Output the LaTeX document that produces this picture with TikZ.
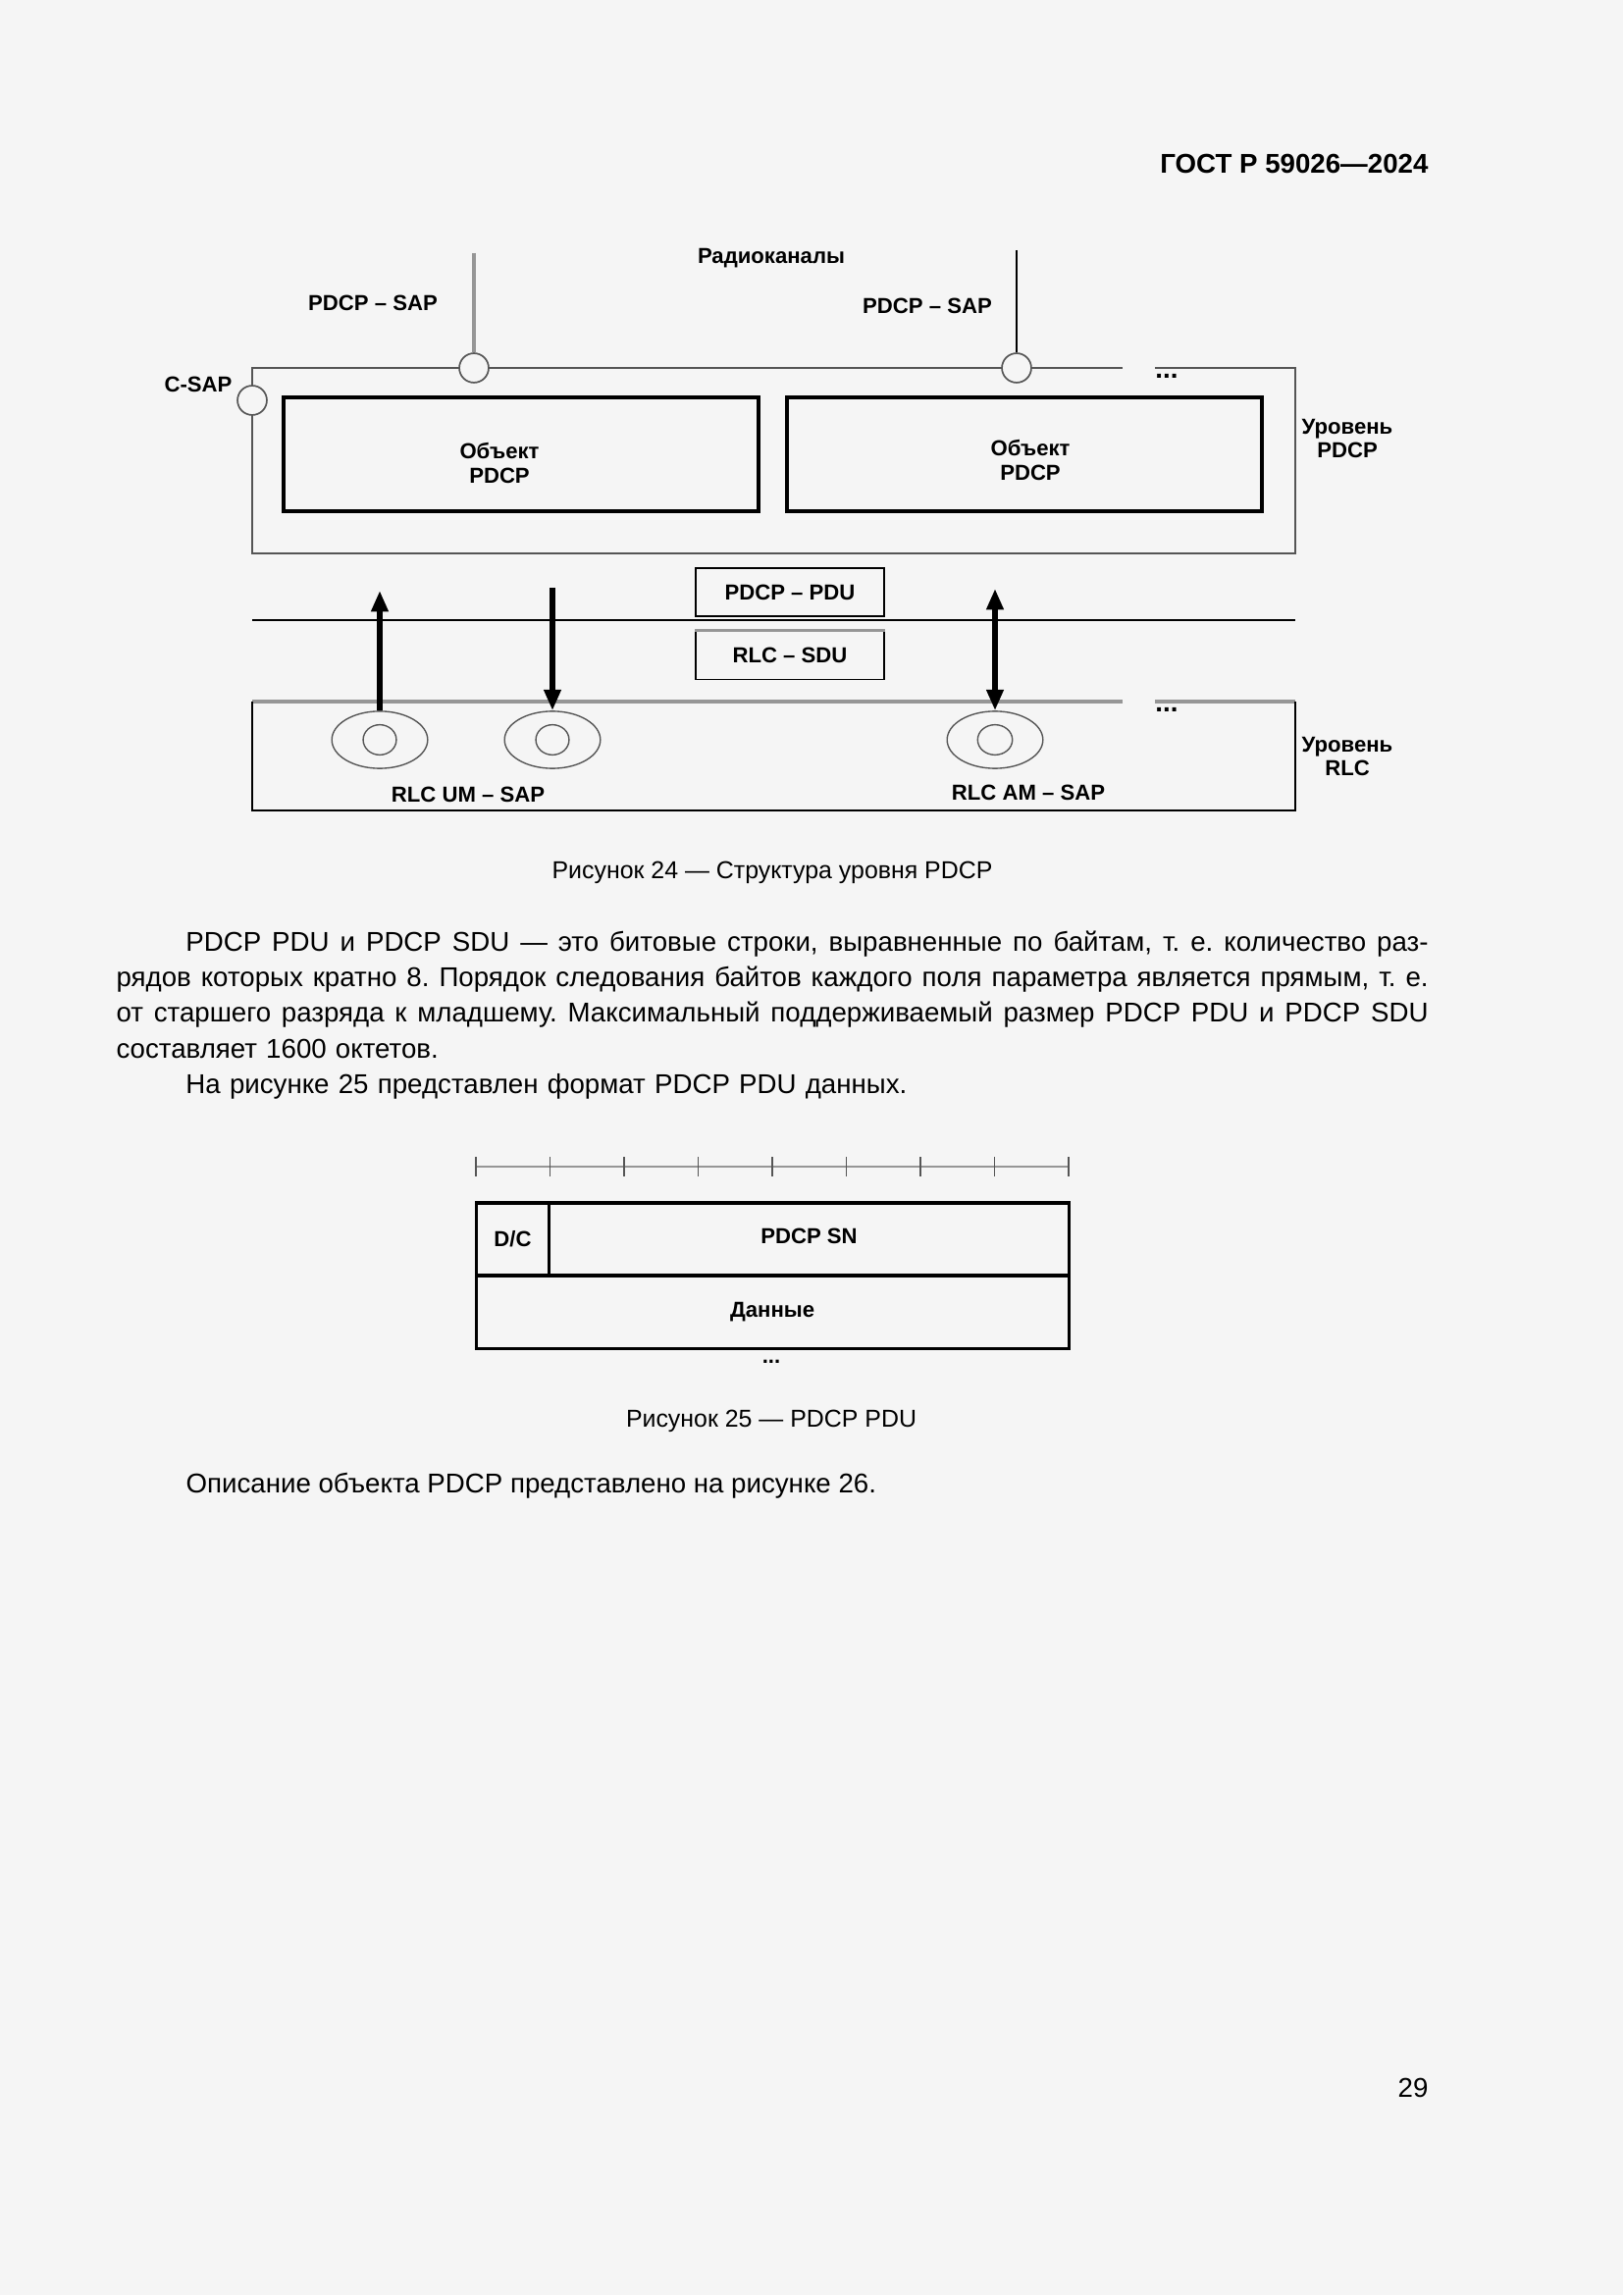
\documentclass[tikz,border=0pt]{standalone}
\usepackage{fontspec}
\setmainfont{Liberation Sans}
\usepackage{xcolor}
\usetikzlibrary{shapes.geometric}
\usetikzlibrary{arrows.meta}
\usetikzlibrary{positioning}
\definecolor{pagebg}{RGB}{245,245,245}
\definecolor{linegray}{RGB}{150,150,150}
\definecolor{edgegray}{RGB}{85,85,85}
\frenchspacing
\newcommand{\fullline}[1]{\leavevmode\hbox to 169.8mm{\spaceskip=0.278em plus 1em minus 0.1em #1}}

\begin{document}
\begin{tikzpicture}[
  x=0.127mm, y=-0.127mm,
  lbl/.style={font=\fontsize{8}{9}\selectfont\bfseries, inner sep=0pt, align=center},
  txt/.style={font=\fontsize{10}{13.15}\selectfont, inner sep=0pt},
  captxt/.style={font=\fontsize{9}{11}\selectfont, inner sep=0pt},
  objbox/.style={draw, line width=1.6pt, minimum width=61.4mm, minimum height=14.8mm, inner sep=0pt},
  pdubox/.style={draw, line width=0.6pt, minimum width=24.4mm, minimum height=6.2mm, inner sep=0pt,
    font=\fontsize{8}{9}\selectfont\bfseries},
  sap/.style={circle, draw=edgegray, line width=0.6pt, fill=pagebg, minimum size=3.8mm, inner sep=0pt},
  rlcsap/.style={ellipse, draw=edgegray, line width=0.5pt, minimum width=12.4mm, minimum height=7.4mm, inner sep=0pt},
  rlcin/.style={ellipse, draw=edgegray, line width=0.5pt, minimum width=4.3mm, minimum height=3.9mm, inner sep=0pt},
  bigarrow/.style={line width=2.2pt, -{Triangle[length=2.7mm,width=2.1mm]}},
  grayline/.style={linegray, line width=1.2pt},
  cell/.style={draw, line width=1.1pt, inner sep=0pt, outer sep=0pt, font=\fontsize{8}{9}\selectfont\bfseries}
]
\useasboundingbox (0,0) rectangle (1654,2339);
\fill[pagebg] (0,0) rectangle (1654,2339);

\node[txt, font=\fontsize{10}{12}\selectfont\bfseries, anchor=base east] (hdr) at (1456,177) {ГОСТ Р 59026—2024};

\draw[edgegray, line width=0.7pt] (1144,375) -- (257,375) -- (257,564) -- (1320,564) -- (1320,375) -- (1177,375);
\node[sap] (csap) at (257,408) {};
\node[sap] (sap1) at (483,375) {};
\node[sap] (sap2) at (1036,375) {};
\coordinate (ch1) at (483,258);
\coordinate (ch2) at (1036,255);
\draw[grayline, line width=1.5pt] (ch1) -- (sap1.north);
\draw[line width=0.6pt] (ch2) -- (sap2.north);

\node[lbl] (radio) at (786,263) {Радиоканалы};
\node[lbl] (saplbl1) at (380,309) {PDCP – SAP};
\node[lbl] (saplbl2) at (945,312) {PDCP – SAP};
\node[lbl] (csaplbl) at (202,392) {C-SAP};
\node[lbl, font=\fontsize{10}{9}\selectfont\bfseries] (dots1) at (1189,383) {...};

\node[objbox] (obj1) at (531,463) {};
\node[objbox] (obj2) at (1044,463) {};
\node[lbl] (obj1txt) at (509,472) {Объект\\PDCP};
\node[lbl] (obj2txt) at (1050,469) {Объект\\PDCP};
\node[lbl] (pdcplvl) at (1373,447) {Уровень\\PDCP};

\draw[line width=0.6pt] (257,632) -- (1320,632);
\node[pdubox] (pdu) at (805,603.5) {PDCP – PDU};
\node[pdubox] (sdu) at (805,668) {RLC – SDU};
\draw[grayline] (sdu.north west) -- (sdu.north east);

\draw[grayline, line width=1.4pt] (1144,715) -- (257,715);
\draw[grayline, line width=1.4pt] (1177,715) -- (1320,715);
\draw[line width=0.7pt] (257,715) -- (257,826) -- (1320,826) -- (1320,715);
\node[lbl, font=\fontsize{10}{9}\selectfont\bfseries] (dots2) at (1189,723) {...};

\node[rlcsap] (um1) at (387,754) {};
\node[rlcin] (um1in) at (387,754) {};
\node[rlcsap] (um2) at (563,754) {};
\node[rlcin] (um2in) at (563,754) {};
\node[rlcsap] (am) at (1014,754) {};
\node[rlcin, minimum width=4.5mm] (amin) at (1014,754) {};

\coordinate (up1) at (387,602);
\coordinate (dn1) at (563,599);
\coordinate (bi1) at (1014,600);
\draw[bigarrow] (um1.north) -- (up1);
\draw[bigarrow] (dn1) -- (um2.north);
\draw[bigarrow, {Triangle[length=2.7mm,width=2.1mm]}-{Triangle[length=2.7mm,width=2.1mm]}] (am.north) -- (bi1);

\node[lbl] (umlbl) at (477,810) {RLC UM – SAP};
\node[lbl] (amlbl) at (1048,808) {RLC AM – SAP};
\node[lbl] (rlclvl) at (1373,771) {Уровень\\RLC};

\node[captxt, anchor=base] (cap24) at (787,895) {Рисунок 24 — Структура уровня PDCP};

\node[txt, anchor=base west, text width=169.8mm] (para) at (118,969) {%
\fullline{\hspace*{9mm}PDCP PDU и PDCP SDU — это битовые строки, выравненные по байтам, т. е. количество раз-}\\
\fullline{рядов которых кратно 8. Порядок следования байтов каждого поля параметра является прямым, т. е.}\\
\fullline{от старшего разряда к младшему. Максимальный поддерживаемый размер PDCP PDU и PDCP SDU}\\
составляет 1600 октетов.\\
\hspace*{9mm}На рисунке 25 представлен формат PDCP PDU данных.};

\draw[linegray, line width=0.6pt] (485,1189) -- (1089,1189);
\foreach \i in {0,...,8}
  \draw[edgegray, line width=0.6pt] ({485+75.5*\i},1179) -- ({485+75.5*\i},1199);

\node[cell, minimum width=9.5mm, minimum height=9.4mm] (dc) at (522.5,1263) {D/C};
\node[cell, minimum width=67.2mm, minimum height=9.4mm, right=0pt of dc] (sn) {\raisebox{0.7mm}{PDCP SN}};
\node[cell, minimum width=76.7mm, minimum height=9.5mm, anchor=north west] (data) at (dc.south west) {\raisebox{-0.4mm}{Данные}};
\node[lbl] (dots3) at (786,1388) {...};

\node[captxt, anchor=base] (cap25) at (786,1454) {Рисунок 25 — PDCP PDU};
\node[txt, anchor=base west] (descr) at (189,1521) {Описание объекта PDCP представлено на рисунке 26.};
\node[txt, anchor=base east] (pagenum) at (1456,2137) {29};
\end{tikzpicture}
\end{document}
